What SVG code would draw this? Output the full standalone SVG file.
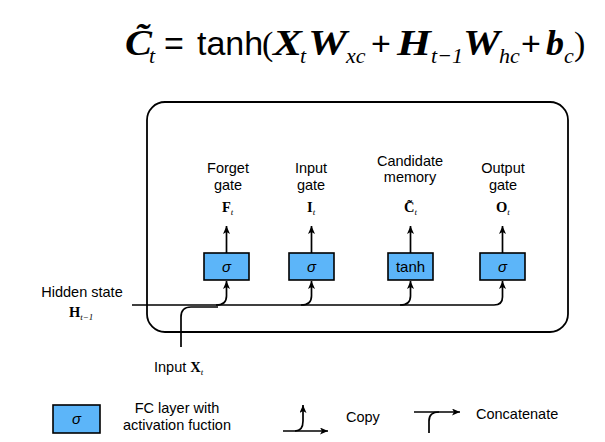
<svg xmlns="http://www.w3.org/2000/svg" width="605" height="442" viewBox="0 0 605 442">
<style>
.sans{font-family:"Liberation Sans",Arial,sans-serif;fill:#000}
.serif{font-family:"Liberation Serif","Times New Roman",serif;fill:#000}
.lbl{font-size:14.5px;text-anchor:middle}
.gate{fill:#5cb5f9;stroke:#000;stroke-width:1.6}
.ln{fill:none;stroke:#000;stroke-width:1.7}
.bi{font-weight:bold;font-style:italic;font-size:36px}
.sub{font-style:italic;font-size:22px}
.op{font-size:34px}
.sym{font-size:15px;text-anchor:middle}
.math{font-weight:bold;font-size:14.5px}
.msub{font-style:italic;font-size:9px;font-weight:normal}
</style>
<defs>
<marker id="ah" markerUnits="userSpaceOnUse" markerWidth="8" markerHeight="8" refX="8" refY="3.5" orient="auto">
<path d="M0,0 L8,3.5 L0,7 L2,3.5 z" fill="#000"/>
</marker>
</defs>
<rect width="605" height="442" fill="#fff"/>

<g id="formula">
<text class="serif bi" x="125" y="55" textLength="27" lengthAdjust="spacingAndGlyphs">C̃</text>
<text class="serif sub" x="149" y="63">t</text>
<text class="sans op" x="164" y="55">=</text>
<text class="sans op" x="197" y="55">tanh</text>
<text class="serif op" x="262" y="55">(</text>
<text class="serif bi" x="273" y="55" textLength="29" lengthAdjust="spacingAndGlyphs">X</text>
<text class="serif sub" x="300" y="63">t</text>
<text class="serif bi" x="308" y="55" textLength="39" lengthAdjust="spacingAndGlyphs">W</text>
<text class="serif sub" x="346" y="63">xc</text>
<text class="sans op" x="371" y="55">+</text>
<text class="serif bi" x="397" y="55" textLength="34" lengthAdjust="spacingAndGlyphs">H</text>
<text class="serif sub" x="431" y="63">t−1</text>
<text class="serif bi" x="463" y="55" textLength="37" lengthAdjust="spacingAndGlyphs">W</text>
<text class="serif sub" x="499" y="63">hc</text>
<text class="sans op" x="521" y="55">+</text>
<text class="serif bi" x="546" y="55">b</text>
<text class="serif sub" x="564" y="63">c</text>
<text class="serif op" x="574" y="55">)</text>
</g>

<g id="cell">
<rect x="147" y="102" width="421" height="230" rx="18" ry="18" fill="none" stroke="#000" stroke-width="1.8"/>
</g>

<g id="forget">
<text class="sans lbl" x="228" y="173">Forget</text>
<text class="sans lbl" x="228" y="190">gate</text>
<text class="serif math" x="222" y="212">F<tspan class="msub" dy="3">t</tspan></text>
<rect class="gate" x="204" y="253" width="45" height="27"/>
<text class="sans sym" x="226.5" y="272" font-style="italic">σ</text>
</g>

<g id="input">
<text class="sans lbl" x="311" y="173">Input</text>
<text class="sans lbl" x="311" y="190">gate</text>
<text class="serif math" x="307" y="212">I<tspan class="msub" dy="3">t</tspan></text>
<rect class="gate" x="289" y="253" width="45" height="27"/>
<text class="sans sym" x="311.5" y="272" font-style="italic">σ</text>
</g>

<g id="candidate">
<text class="sans lbl" x="410" y="166">Candidate</text>
<text class="sans lbl" x="410" y="182">memory</text>
<text class="serif math" x="404" y="212">C̃<tspan class="msub" dy="3">t</tspan></text>
<rect class="gate" x="388" y="253" width="45" height="27"/>
<text class="sans sym" x="410.5" y="272">tanh</text>
</g>

<g id="output">
<text class="sans lbl" x="503" y="173">Output</text>
<text class="sans lbl" x="503" y="190">gate</text>
<text class="serif math" x="496" y="212">O<tspan class="msub" dy="3">t</tspan></text>
<rect class="gate" x="480" y="253" width="45" height="27"/>
<text class="sans sym" x="502.5" y="272" font-style="italic">σ</text>
</g>

<g id="hidden">
<text class="sans lbl" x="82" y="297">Hidden state</text>
<text class="serif math" x="69" y="317">H<tspan class="msub" dy="3">t−1</tspan></text>
</g>

<g id="inputx">
<text class="sans" x="154" y="372" font-size="14.5">Input <tspan class="serif" font-weight="bold" font-size="14.5">X</tspan><tspan class="serif msub" dy="3">t</tspan></text>
</g>

<g id="connectors">
<path class="ln" d="M226.5,253 V226" marker-end="url(#ah)"/>
<path class="ln" d="M311.5,253 V226" marker-end="url(#ah)"/>
<path class="ln" d="M410.5,253 V226" marker-end="url(#ah)"/>
<path class="ln" d="M502.5,253 V226" marker-end="url(#ah)"/>
<path class="ln" d="M132,305 H494 Q502.5,305 502.5,297 V281" marker-end="url(#ah)"/>
<path class="ln" d="M216,305 Q226.5,305 226.5,296 V281" marker-end="url(#ah)"/>
<path class="ln" d="M301,305 Q311.5,305 311.5,296 V281" marker-end="url(#ah)"/>
<path class="ln" d="M400,305 Q410.5,305 410.5,296 V281" marker-end="url(#ah)"/>
<path class="ln" d="M181,347 V317 Q181,307 191,307 H218"/>
</g>

<g id="legend">
<rect class="gate" x="53" y="405" width="47" height="28"/>
<text class="sans sym" x="76.5" y="424" font-style="italic">σ</text>
<text class="sans lbl" x="177" y="413">FC layer with</text>
<text class="sans lbl" x="177" y="430">activation fuction</text>
<path class="ln" d="M283,431 H328" marker-end="url(#ah)"/>
<path class="ln" d="M295,431 Q303,431 303,421 V405" marker-end="url(#ah)"/>
<text class="sans" x="346" y="422" font-size="14.5">Copy</text>
<path class="ln" d="M414,412 H460" marker-end="url(#ah)"/>
<path class="ln" d="M429,433 V421 Q429,412 439,412"/>
<text class="sans" x="476" y="419" font-size="14.5">Concatenate</text>
</g>
</svg>
